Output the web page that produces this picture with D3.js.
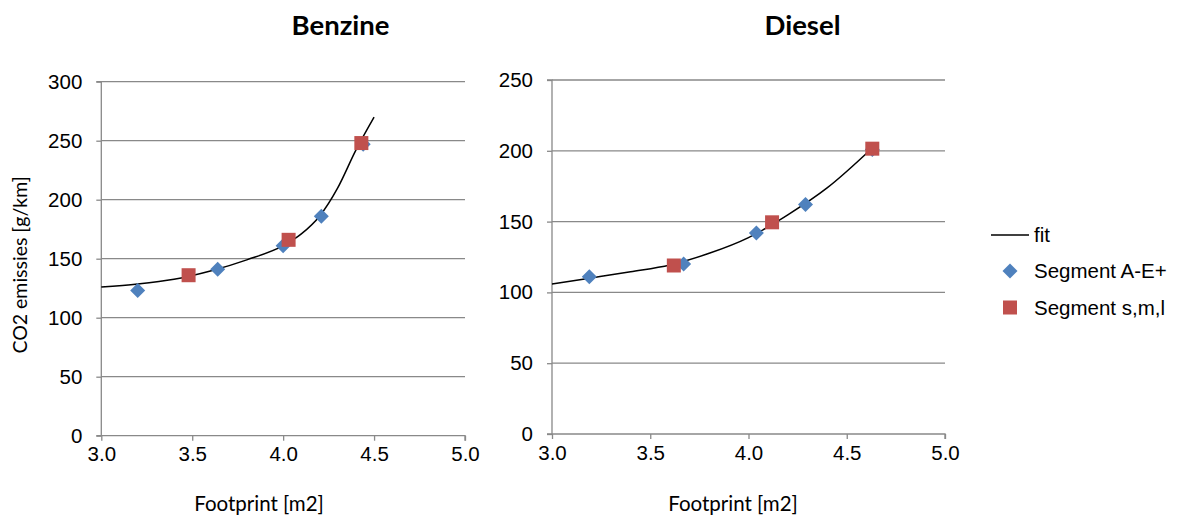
<!DOCTYPE html>
<html>
<head>
<meta charset="utf-8">
<script src="https://cdn.jsdelivr.net/npm/d3@7"></script>
<style>
  html, body { margin: 0; padding: 0; background: #fff; }
  svg { display: block; }
</style>
</head>
<body>
<svg id="chart" width="1179" height="518"></svg>
<script>
// ---- Data ----
const xTicks = [3.0, 3.5, 4.0, 4.5, 5.0];
const benzineYTicks = [0, 50, 100, 150, 200, 250, 300];
const dieselYTicks = [0, 50, 100, 150, 200, 250];

// Benzine
const benzineSegAE_x = [3.20, 3.64, 4.00, 4.21, 4.44];
const benzineSegAE_y = [123, 141, 161, 186, 247];
const benzineSegSML_x = [3.48, 4.03, 4.43];
const benzineSegSML_y = [136, 166, 248];
const benzineFit_x = [3.0, 3.2, 3.4, 3.6, 3.8, 4.0, 4.1, 4.2, 4.3, 4.4, 4.5];
const benzineFit_y = [126, 128.5, 132.5, 139.5, 149, 161, 171, 186, 210, 242, 270];

// Diesel
const dieselSegAE_x = [3.19, 3.67, 4.04, 4.29, 4.63];
const dieselSegAE_y = [111, 120, 142, 162, 201];
const dieselSegSML_x = [3.62, 4.12, 4.63];
const dieselSegSML_y = [119, 149.5, 201.5];
const dieselFit_x = [3.0, 3.2, 3.4, 3.6, 3.8, 4.0, 4.2, 4.4, 4.63];
const dieselFit_y = [105.9, 110.2, 114.6, 119.4, 127.6, 138.7, 154.8, 173.8, 202];

const legendLabels = ["fit", "Segment A-E+", "Segment s,m,l"];

// ---- Styles ----
const BLUE = "#4F81BD", RED = "#C0504D", GRID = "#898989";
const tickFont = "'Liberation Sans', Arial, sans-serif";
const labelFont = "Lato, 'Open Sans', sans-serif";

const svg = d3.select("#chart");

function zip(xs, ys) { return xs.map((x, i) => ({x: x, y: ys[i]})); }

function panel(opts) {
  const g = svg.append("g");
  const x = d3.scaleLinear().domain([3.0, 5.0]).range([opts.left, opts.right]);
  const y = d3.scaleLinear().domain([0, opts.ymax]).range([opts.bottom, opts.top]);

  // gridlines
  g.append("g").selectAll("line").data(opts.yTicks.filter(d => d > 0)).join("line")
    .attr("x1", opts.left).attr("x2", opts.right)
    .attr("y1", d => y(d)).attr("y2", d => y(d))
    .attr("stroke", GRID).attr("stroke-width", 1.3);

  // y axis
  const ya = g.append("g").attr("transform", `translate(${opts.left},0)`)
    .call(d3.axisLeft(y).tickValues(opts.yTicks).tickSize(5).tickPadding(14).tickFormat(d3.format("d")));
  ya.select(".domain").attr("stroke", GRID).attr("stroke-width", 1.3).attr("d", `M-5,${opts.bottom}H0V${opts.top}H-5`);
  ya.selectAll(".tick line").attr("stroke", GRID).attr("stroke-width", 1.3);
  ya.selectAll(".tick text").attr("font-family", tickFont).attr("font-size", "20.5px").attr("fill", "#000");

  // x axis
  const xa = g.append("g").attr("transform", `translate(0,${opts.bottom})`)
    .call(d3.axisBottom(x).tickValues(xTicks).tickSize(5).tickPadding(6).tickFormat(d3.format(".1f")));
  xa.select(".domain").attr("stroke", GRID).attr("stroke-width", 1.3).attr("d", `M${opts.left},0H${opts.right}V5`);
  xa.selectAll(".tick line").attr("stroke", GRID).attr("stroke-width", 1.3);
  xa.selectAll(".tick text").attr("font-family", tickFont).attr("font-size", "20.5px").attr("fill", "#000");

  // fit line
  const line = d3.line().x(d => x(d.x)).y(d => y(d.y)).curve(d3.curveMonotoneX);
  g.append("path").datum(zip(opts.fitX, opts.fitY))
    .attr("d", line).attr("fill", "none").attr("stroke", "#000").attr("stroke-width", 1.5);

  // diamonds
  g.append("g").selectAll("path").data(zip(opts.aeX, opts.aeY)).join("path")
    .attr("transform", d => `translate(${x(d.x)},${y(d.y)})`)
    .attr("d", "M0,-7.5L7.5,0L0,7.5L-7.5,0Z")
    .attr("fill", BLUE);

  // squares
  g.append("g").selectAll("rect").data(zip(opts.smlX, opts.smlY)).join("rect")
    .attr("x", d => x(d.x) - 7).attr("y", d => y(d.y) - 7)
    .attr("width", 14).attr("height", 14)
    .attr("fill", RED);

  // title
  g.append("text").attr("x", opts.titleX).attr("y", 35).attr("text-anchor", "middle")
    .attr("font-family", labelFont).attr("font-weight", "bold").attr("font-size", "27.5px")
    .text(opts.title);

  // x label
  g.append("text").attr("x", opts.xLabelX).attr("y", 511).attr("text-anchor", "middle")
    .attr("font-family", labelFont).attr("font-size", "20.5px").text("Footprint [m2]");
}

panel({
  left: 101.3, right: 465, top: 81.7, bottom: 435.7, ymax: 300,
  yTicks: benzineYTicks, title: "Benzine", titleX: 340.5, xLabelX: 259,
  aeX: benzineSegAE_x, aeY: benzineSegAE_y,
  smlX: benzineSegSML_x, smlY: benzineSegSML_y,
  fitX: benzineFit_x, fitY: benzineFit_y
});

panel({
  left: 552, right: 945, top: 80, bottom: 434, ymax: 250,
  yTicks: dieselYTicks, title: "Diesel", titleX: 802.5, xLabelX: 733,
  aeX: dieselSegAE_x, aeY: dieselSegAE_y,
  smlX: dieselSegSML_x, smlY: dieselSegSML_y,
  fitX: dieselFit_x, fitY: dieselFit_y
});

// y axis label
svg.append("text").attr("transform", "translate(27,265) rotate(-90)")
  .attr("text-anchor", "middle").attr("font-family", labelFont).attr("font-size", "19.5px")
  .text("CO2 emissies [g/km]");

// legend
const lg = svg.append("g");
lg.append("line").attr("x1", 991).attr("x2", 1029).attr("y1", 235).attr("y2", 235)
  .attr("stroke", "#000").attr("stroke-width", 1.5);
lg.append("path").attr("transform", "translate(1010,271)").attr("d", "M0,-7.5L7.5,0L0,7.5L-7.5,0Z").attr("fill", BLUE);
lg.append("rect").attr("x", 1003).attr("y", 300.5).attr("width", 14).attr("height", 14).attr("fill", RED);
lg.selectAll("text").data(legendLabels).join("text")
  .attr("x", 1034).attr("y", (d, i) => [242, 278, 315][i])
  .attr("font-family", tickFont).attr("font-size", "20.5px").text(d => d);
</script>
</body>
</html>
